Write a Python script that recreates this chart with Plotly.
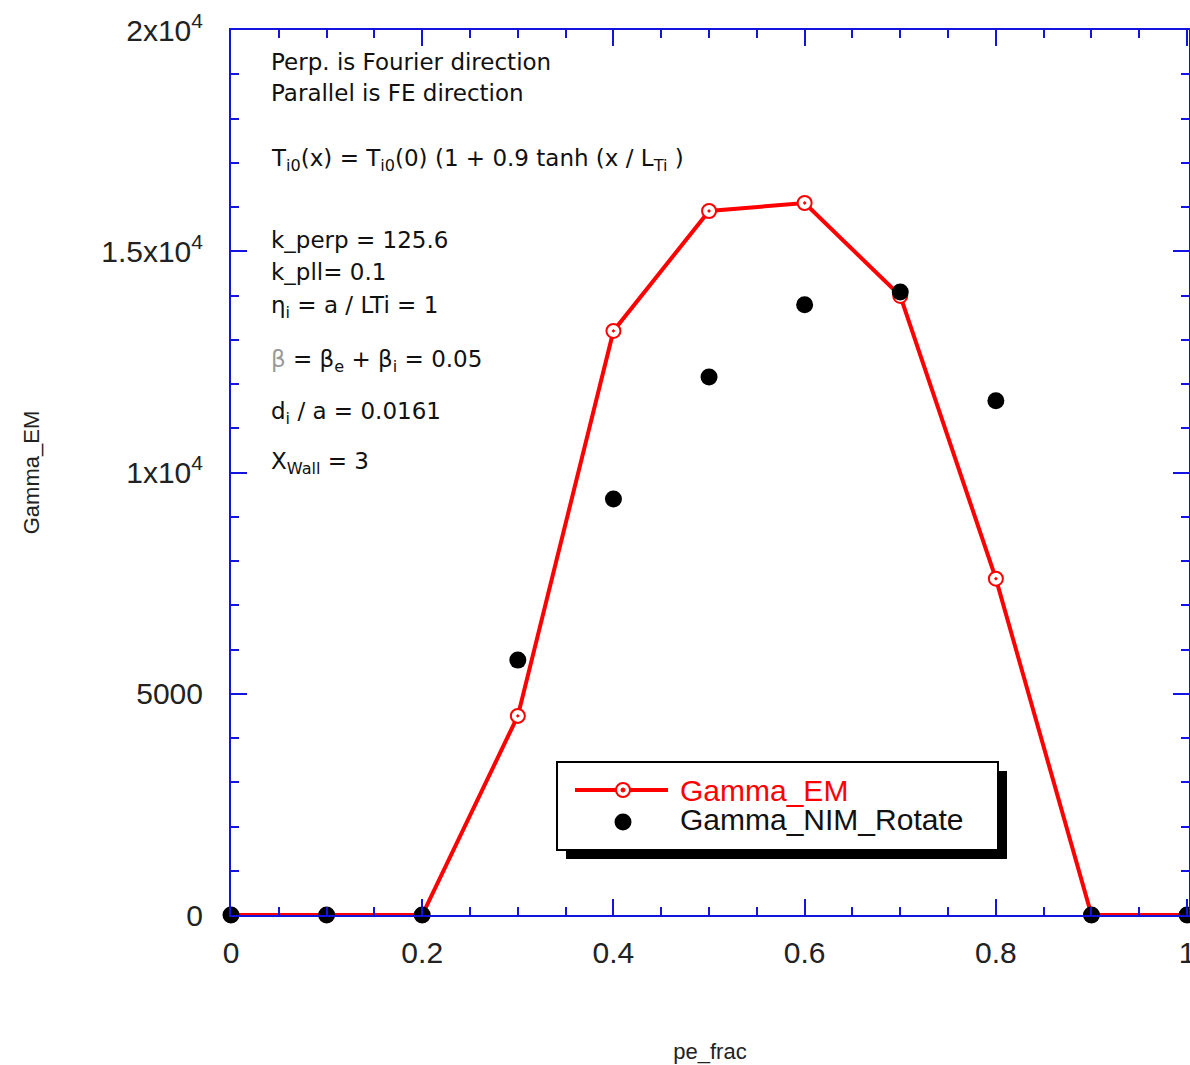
import plotly.graph_objects as go

# Growth rates versus pe_frac
pe_frac = [0.0, 0.1, 0.2, 0.3, 0.4, 0.5, 0.6, 0.7, 0.8, 0.9, 1.0]
gamma_em = [0, 0, 0, 4500, 13200, 15910, 16090, 13990, 7600, 0, 0]
gamma_nim_rotate = [0, 0, 0, 5760, 9400, 12160, 13790, 14080, 11620, 0, 0]

y_tickvals = [0, 5000, 10000, 15000, 20000]
y_ticktext = ["0", "5000", "1x10<sup>4</sup>", "1.5x10<sup>4</sup>", "2x10<sup>4</sup>"]
x_tickvals = [0, 0.2, 0.4, 0.6, 0.8, 1.0]
x_ticktext = ["0", "0.2", "0.4", "0.6", "0.8", "1"]

W, H = 1190, 1065
ML, MR, MT, MB = 231, 1, 30, 150
PW, PH = W - ML - MR, H - MT - MB

AXIS_BLUE = "#1414e0"
RED = "#ff0000"
TICK_FONT = dict(family="Liberation Sans, Arial, sans-serif", size=30, color="#222222")
NOTE_FONT = dict(family="DejaVu Sans, sans-serif", size=23, color="#111111")


def px_x(px):
    return (px - ML) / PW


def px_y(py):
    return (MT + PH - py) / PH


fig = go.Figure()

fig.add_trace(go.Scatter(
    x=pe_frac, y=gamma_em, mode="lines+markers", name="Gamma_EM",
    line=dict(color=RED, width=4),
    marker=dict(symbol="circle-dot", size=14, color="white",
                line=dict(color=RED, width=2)),
    cliponaxis=False, showlegend=False,
))
fig.add_trace(go.Scatter(
    x=pe_frac, y=gamma_nim_rotate, mode="markers", name="Gamma_NIM_Rotate",
    marker=dict(symbol="circle", size=17, color="black"),
    cliponaxis=False, showlegend=False,
))

# Parameter notes in the upper-left corner
notes = [
    (62, "Perp. is Fourier direction"),
    (93, "Parallel is FE direction"),
    (160, "T<sub>i0</sub>(x) = T<sub>i0</sub>(0) (1 + 0.9 tanh (x / L<sub>Ti</sub> )"),
    (240, "k_perp = 125.6"),
    (272, "k_pll= 0.1"),
    (307, "η<sub>i</sub> = a / LTi = 1"),
    (361, "<span style='color:#999999'>β</span> = β<sub>e</sub> + β<sub>i</sub> = 0.05"),
    (413, "d<sub>i</sub> / a = 0.0161"),
    (463, "X<sub>Wall</sub> = 3"),
]
annotations = []
for ypix, txt in notes:
    annotations.append(dict(
        x=px_x(269), y=px_y(ypix), xref="paper", yref="paper",
        xanchor="left", yanchor="middle", text=txt, showarrow=False,
        font=NOTE_FONT, align="left",
    ))

# Legend box with drop shadow
box_l, box_t, box_r, box_b = 557, 762, 998, 850
shadow = 9
shapes = [
    dict(type="rect", xref="paper", yref="paper",
         x0=px_x(box_l + shadow), x1=px_x(box_r + shadow),
         y0=px_y(box_b + shadow), y1=px_y(box_t + shadow),
         fillcolor="black", line=dict(width=0)),
    dict(type="rect", xref="paper", yref="paper",
         x0=px_x(box_l), x1=px_x(box_r), y0=px_y(box_b), y1=px_y(box_t),
         fillcolor="white", line=dict(color="black", width=2)),
    dict(type="line", xref="paper", yref="paper",
         x0=px_x(575), x1=px_x(668), y0=px_y(790), y1=px_y(790),
         line=dict(color=RED, width=4)),
    dict(type="circle", xref="paper", yref="paper",
         xsizemode="pixel", ysizemode="pixel",
         xanchor=px_x(623), yanchor=px_y(790),
         x0=-7, x1=7, y0=-7, y1=7,
         fillcolor="white", line=dict(color=RED, width=2)),
    dict(type="circle", xref="paper", yref="paper",
         xsizemode="pixel", ysizemode="pixel",
         xanchor=px_x(623), yanchor=px_y(790),
         x0=-2, x1=2, y0=-2, y1=2,
         fillcolor=RED, line=dict(color=RED, width=1)),
    dict(type="circle", xref="paper", yref="paper",
         xsizemode="pixel", ysizemode="pixel",
         xanchor=px_x(623), yanchor=px_y(822),
         x0=-8.5, x1=8.5, y0=-8.5, y1=8.5,
         fillcolor="black", line=dict(color="black", width=0)),
]
LEG_FONT = dict(family="Liberation Sans, Arial, sans-serif", size=30)
annotations.append(dict(
    x=px_x(678), y=px_y(790), xref="paper", yref="paper",
    xanchor="left", yanchor="middle", text="Gamma_EM", showarrow=False,
    font=dict(LEG_FONT, color=RED),
))
annotations.append(dict(
    x=px_x(678), y=px_y(819), xref="paper", yref="paper",
    xanchor="left", yanchor="middle", text="Gamma_NIM_Rotate", showarrow=False,
    font=dict(LEG_FONT, color="#111111"),
))

fig.update_layout(
    width=W, height=H,
    margin=dict(l=ML, r=MR, t=MT, b=MB, pad=0),
    paper_bgcolor="white", plot_bgcolor="white",
    shapes=shapes, annotations=annotations,
    xaxis=dict(
        range=[0, 1.002], tickvals=x_tickvals, ticktext=x_ticktext,
        showgrid=False, zeroline=False, automargin=False,
        showline=True, linecolor=AXIS_BLUE, linewidth=2, mirror="ticks",
        ticks="inside", ticklen=16, tickwidth=2, tickcolor=AXIS_BLUE,
        minor=dict(dtick=0.05, ticks="inside", ticklen=8, tickwidth=2,
                   tickcolor=AXIS_BLUE, showgrid=False),
        tickfont=TICK_FONT, ticklabelstandoff=10, ticklabeloverflow="allow",
        title=dict(text="pe_frac", standoff=76,
                   font=dict(family="Liberation Sans, Arial, sans-serif", size=22, color="#222222")),
    ),
    yaxis=dict(
        range=[0, 20000], tickvals=y_tickvals, ticktext=y_ticktext,
        showgrid=False, zeroline=False, automargin=False,
        showline=True, linecolor=AXIS_BLUE, linewidth=2, mirror="ticks",
        ticks="inside", ticklen=16, tickwidth=2, tickcolor=AXIS_BLUE,
        minor=dict(dtick=1000, ticks="inside", ticklen=8, tickwidth=2,
                   tickcolor=AXIS_BLUE, showgrid=False),
        tickfont=TICK_FONT, ticklabelstandoff=20,
        title=dict(text="Gamma_EM", standoff=56,
                   font=dict(family="Liberation Sans, Arial, sans-serif", size=22, color="#222222")),
    ),
)

fig.write_html("out.html")
